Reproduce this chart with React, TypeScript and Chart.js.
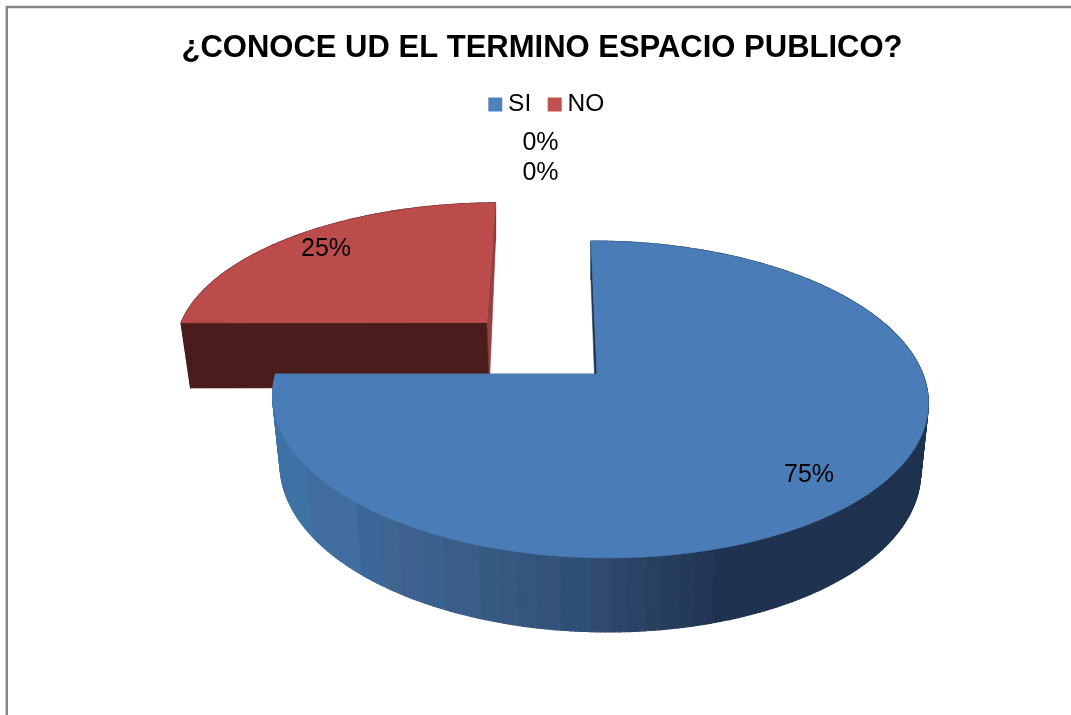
import React, { useEffect, useRef } from "react";
import { Chart, registerables } from "chart.js";

Chart.register(...registerables);

const categories = ["SI", "NO", "", ""];
const shares = [75, 25, 0, 0];
const labelsText = ["75%", "25%", "0%", "0%"];
const topColors = ["#4a7cb7", "#bb4c4b", "#9bbb59", "#8064a2"];
const legendColors = ["#4f81bd", "#c0504d", "#9bbb59", "#8064a2"];
const explosion = [0, 50, 0, 0];
const sliceWidth = [1, 1.01, 1, 1];

// Perspective of the pie plane
const CX = 597, CY = 374;
const A = 323.5, B = 7, D = 154.3, G = -0.161, H = -0.007;

function project(u: number, v: number) {
  const w = 1 + G * v + H * u;
  return { x: CX + (A * u + B * v) / w, y: CY + (D * v) / w };
}
function lower(u: number, v: number) {
  const p = project(u, v);
  // the far edge of the pie shows less of its depth than the near edge
  const f = v >= -0.36 ? 0 : Math.min(1, (-0.36 - v) / 0.64);
  const s = 0.977 + 0.023 * f;
  const near = 67.5 + 6.5 * Math.max(v, -0.36);
  return { x: CX + s * (p.x - CX), y: p.y + near + (38 - near) * f };
}

const wallBands: [number, string][] = [
  [305, "#3f72a5"], [345, "#426d9f"], [356, "#3f6ea0"], [380, "#3d6699"], [398, "#3e668f"],
  [420, "#3f6190"], [440, "#3b628c"], [476, "#3b5c89"], [495, "#365b83"], [515, "#375880"],
  [536, "#32567d"], [560, "#35537a"], [590, "#2f5075"], [610, "#2f496f"], [628, "#2b4668"],
  [648, "#2c4266"], [660, "#27415f"], [680, "#283c5e"], [695, "#233b58"], [716, "#243655"],
  [2000, "#1f3350"],
];
const wallColors = ["", "#4a1d1c"];
const startFaceColors = ["#1f3350", "#4a1d1c"];
const endFaceColors = ["#3f72a5", "#94403e"];
const labelSpots: [number, number][] = [[809, 475], [326, 249], [540.5, 173.5], [540.5, 143.5]];
const LEGEND_SHIFT_X = 7.5;
const LEGEND_SHIFT_Y = -13;

function poly(
  ctx: CanvasRenderingContext2D,
  pts: { x: number; y: number }[],
  color: string,
  lw = 0.6
) {
  ctx.beginPath();
  pts.forEach((p, i) => (i ? ctx.lineTo(p.x, p.y) : ctx.moveTo(p.x, p.y)));
  ctx.closePath();
  ctx.fillStyle = color;
  ctx.strokeStyle = color;
  ctx.lineWidth = lw;
  ctx.lineJoin = "round";
  ctx.fill();
  ctx.stroke();
}

const pie3d = {
  id: "pie3d",
  afterLayout(chart: any) {
    chart.legend.left += LEGEND_SHIFT_X;
    chart.legend.right += LEGEND_SHIFT_X;
    chart.legend.top += LEGEND_SHIFT_Y;
    chart.legend.bottom += LEGEND_SHIFT_Y;
  },
  beforeDraw(chart: any) {
    const { ctx, width, height } = chart;
    ctx.save();
    ctx.fillStyle = "#ffffff";
    ctx.fillRect(0, 0, width, height);
    ctx.strokeStyle = "#868686";
    ctx.lineWidth = 2.4;
    ctx.beginPath();
    ctx.moveTo(6.8, height + 2);
    ctx.lineTo(6.8, 7);
    ctx.lineTo(width + 2, 7);
    ctx.stroke();
    ctx.restore();
  },
  beforeDatasetDraw(chart: any) {
    const ctx: CanvasRenderingContext2D = chart.ctx;
    const arcs = chart.getDatasetMeta(0).data;
    const order = [1, 0];
    ctx.save();
    for (const i of order) {
      const el = arcs[i];
      const s = el.startAngle, e = el.endAngle;
      const mid = (s + e) / 2;
      const k = (chart.data.datasets[0].explosion[i] as number) / 100;
      const ox = k * Math.cos(mid), oy = k * Math.sin(mid);
      const n = Math.ceil((e - s) / (Math.PI / 240));
      const pt = (j: number) => {
        const a = s + ((e - s) * j) / n;
        return [ox + sliceWidth[i] * Math.cos(a), oy + Math.sin(a)];
      };
      // outer wall
      for (let j = 0; j < n; j++) {
        const [u0, v0] = pt(j), [u1, v1] = pt(j + 1);
        const t0 = project(u0, v0), t1 = project(u1, v1);
        const b0 = lower(u0, v0), b1 = lower(u1, v1);
        let c = wallColors[i];
        if (!c) {
          const xm = (t0.x + t1.x) / 2;
          c = (wallBands.find((b) => xm < b[0]) as [number, string])[1];
        }
        poly(ctx, [t0, t1, b1, b0], c, 1.2);
      }
      // radial cut faces
      const [us, vs] = pt(0), [ue, ve] = pt(n);
      poly(ctx, [project(ue, ve), project(ox, oy), lower(ox, oy), lower(ue, ve)], endFaceColors[i]);
      poly(ctx, [project(us, vs), project(ox, oy), lower(ox, oy), lower(us, vs)], startFaceColors[i]);
      // top
      const top = [project(ox, oy)];
      for (let j = 0; j <= n; j++) {
        const [u, v] = pt(j);
        top.push(project(u, v));
      }
      poly(ctx, top, topColors[i]);
    }
    ctx.restore();
    return false;
  },
  afterDatasetsDraw(chart: any) {
    const ctx: CanvasRenderingContext2D = chart.ctx;
    ctx.save();
    ctx.fillStyle = "#000000";
    ctx.font = "25px 'Liberation Sans'";
    ctx.textAlign = "center";
    ctx.textBaseline = "middle";
    labelsText.forEach((t, i) => ctx.fillText(t, labelSpots[i][0], labelSpots[i][1]));
    ctx.restore();
  },
};

export default function App() {
  const ref = useRef<HTMLCanvasElement>(null);
  useEffect(() => {
    const chart = new Chart(ref.current as HTMLCanvasElement, {
      type: "pie",
      data: {
        labels: categories,
        datasets: [
          {
            data: shares,
            backgroundColor: legendColors,
            borderColor: legendColors,
            borderWidth: 13,
            explosion,
          } as any,
        ],
      },
      options: {
        responsive: false,
        animation: false,
        layout: { padding: { left: 13, top: 30 } },
        plugins: {
          tooltip: { enabled: false },
          title: {
            display: true,
            text: "¿CONOCE UD EL TERMINO ESPACIO PUBLICO?",
            color: "#000000",
            font: { family: "'Liberation Sans'", size: 31, weight: "bold" },
            padding: { top: 0, bottom: 15 },
          },
          legend: {
            position: "top",
            labels: {
              boxWidth: 1,
              boxHeight: 1,
              color: "#000000",
              padding: 23,
              font: { family: "'Liberation Sans'", size: 24.5 },
              filter: (item: any) => item.text !== "",
            },
          },
        },
      },
      plugins: [pie3d as any],
    });
    return () => chart.destroy();
  }, []);
  return (
    <div style={{ position: "fixed", left: 0, top: 0, width: 1071, height: 715 }}>
      <canvas ref={ref} width={1071} height={715} style={{ display: "block" }} />
    </div>
  );
}
